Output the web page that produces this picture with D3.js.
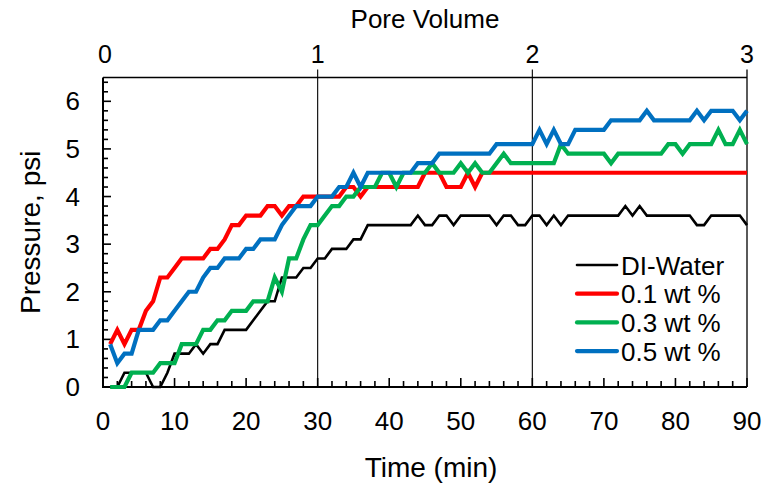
<!DOCTYPE html>
<html>
<head>
<meta charset="utf-8">
<script src="https://cdn.jsdelivr.net/npm/d3@7"></script>
<style>
  html, body { margin: 0; padding: 0; background: #fff; }
  svg { display: block; }
  text { font-family: "Liberation Sans", Arial, sans-serif; fill: #000; }
</style>
</head>
<body>
<svg id="chart" width="768" height="486"></svg>
<script>
// Time of each pressure reading (min)
const timeMin = [1,2,3,4,5,6,7,8,9,10,11,12,13,14,15,16,17,18,19,20,
  21,22,23,24,25,26,27,28,29,30,31,32,33,34,35,36,37,38,39,40,
  41,42,43,44,45,46,47,48,49,50,51,52,53,54,55,56,57,58,59,60,
  61,62,63,64,65,66,67,68,69,70,71,72,73,74,75,76,77,78,79,80,
  81,82,83,84,85,86,87,88,89,90];

// Pressure drop (psi) for each injected fluid
const diWater = [0,0,0.3,0.3,0.3,0.3,0,0,0.3,0.7,
  0.7,0.7,0.9,0.7,0.9,0.9,1.2,1.2,1.2,1.2,
  1.4,1.6,1.8,1.8,2.3,2.3,2.3,2.5,2.5,2.7,
  2.7,2.9,2.9,2.9,3.1,3.1,3.4,3.4,3.4,3.4,
  3.4,3.4,3.4,3.6,3.4,3.4,3.6,3.6,3.4,3.6,
  3.6,3.6,3.6,3.6,3.4,3.6,3.6,3.4,3.4,3.6,
  3.6,3.4,3.6,3.4,3.6,3.6,3.6,3.6,3.6,3.6,
  3.6,3.6,3.8,3.6,3.8,3.6,3.6,3.6,3.6,3.6,
  3.6,3.6,3.4,3.4,3.6,3.6,3.6,3.6,3.6,3.4];

const wt01 = [0.9,1.2,0.9,1.2,1.2,1.6,1.8,2.3,2.3,2.5,
  2.7,2.7,2.7,2.7,2.9,2.9,3.1,3.4,3.4,3.6,
  3.6,3.6,3.8,3.8,3.6,3.8,3.8,4.0,4.0,4.0,
  4.0,4.0,4.0,4.2,4.2,4.0,4.2,4.2,4.2,4.2,
  4.2,4.2,4.2,4.2,4.5,4.5,4.5,4.2,4.2,4.2,
  4.5,4.2,4.5,4.5,4.5,4.5,4.5,4.5,4.5,4.5,
  4.5,4.5,4.5,4.5,4.5,4.5,4.5,4.5,4.5,4.5,
  4.5,4.5,4.5,4.5,4.5,4.5,4.5,4.5,4.5,4.5,
  4.5,4.5,4.5,4.5,4.5,4.5,4.5,4.5,4.5,4.5];

const wt03 = [0,0,0,0.3,0.3,0.3,0.3,0.5,0.5,0.5,
  0.9,0.9,0.9,1.2,1.2,1.4,1.4,1.6,1.6,1.6,
  1.8,1.8,1.8,2.3,2.0,2.7,2.7,3.1,3.4,3.4,
  3.6,3.8,3.8,4.0,4.0,4.2,4.2,4.2,4.5,4.5,
  4.2,4.5,4.5,4.5,4.5,4.7,4.5,4.5,4.5,4.7,
  4.5,4.7,4.5,4.5,4.7,4.9,4.7,4.7,4.7,4.7,
  4.7,4.7,4.7,5.1,4.9,4.9,4.9,4.9,4.9,4.9,
  4.7,4.9,4.9,4.9,4.9,4.9,4.9,4.9,5.1,5.1,
  4.9,5.1,5.1,5.1,5.1,5.4,5.1,5.1,5.4,5.1];

const wt05 = [0.9,0.5,0.7,0.7,1.2,1.2,1.2,1.4,1.4,1.6,
  1.8,2.0,2.0,2.3,2.5,2.5,2.7,2.7,2.7,2.9,
  2.9,3.1,3.1,3.1,3.4,3.6,3.8,3.8,3.8,4.0,
  4.0,4.0,4.2,4.2,4.5,4.2,4.5,4.5,4.5,4.5,
  4.5,4.5,4.5,4.7,4.7,4.7,4.9,4.9,4.9,4.9,
  4.9,4.9,4.9,4.9,5.1,5.1,5.1,5.1,5.1,5.1,
  5.4,5.1,5.4,5.1,5.1,5.4,5.4,5.4,5.4,5.4,
  5.6,5.6,5.6,5.6,5.6,5.8,5.6,5.6,5.6,5.6,
  5.6,5.6,5.8,5.6,5.8,5.8,5.8,5.8,5.6,5.8];

const seriesNames = ["DI-Water", "0.1 wt %", "0.3 wt %", "0.5 wt %"];
const seriesColors = ["#000000", "#FF0000", "#00B050", "#0070C0"];
const seriesValues = [diWater, wt01, wt03, wt05];

const timeTicks = [0,10,20,30,40,50,60,70,80,90];
const pressureTicks = [0,1,2,3,4,5,6];
const poreVolumeTicks = [0,1,2,3];

const svg = d3.select("#chart");
const plotLeft = 103, plotRight = 747, plotTop = 77.5, plotBottom = 387;

const x = d3.scaleLinear().domain([0, 90]).range([plotLeft, plotRight]);
const xPV = d3.scaleLinear().domain([0, 3]).range([plotLeft, plotRight]);
const y = d3.scaleLinear().domain([0, 6.5]).range([plotBottom, plotTop]);

// Plot frame: top edge
svg.append("line").attr("x1", plotLeft).attr("x2", plotRight)
  .attr("y1", plotTop).attr("y2", plotTop)
  .attr("stroke", "#000").attr("stroke-width", 1.3);

// Pore-volume markers: tick above the frame and a line down through the plot
poreVolumeTicks.filter(d => d > 0).forEach(d => {
  svg.append("line")
    .attr("x1", xPV(d)).attr("x2", xPV(d))
    .attr("y1", plotTop - 8).attr("y2", plotBottom)
    .attr("stroke", "#000").attr("stroke-width", d === 3 ? 1.3 : 1.1);
});

// Pore-volume labels along the top
svg.append("g").selectAll("text").data(poreVolumeTicks).join("text")
  .attr("x", d => xPV(d) + (d === 0 ? 2 : 0))
  .attr("y", 63)
  .attr("text-anchor", "middle")
  .attr("font-size", 25)
  .text(d => d);

// Bottom time axis with inward ticks
const xMinor = d3.range(0, 91, 2);
svg.append("g").selectAll("line").data(xMinor).join("line")
  .attr("x1", d => x(d)).attr("x2", d => x(d))
  .attr("y1", plotBottom)
  .attr("y2", d => plotBottom - (d % 10 === 0 ? 9 : 6))
  .attr("stroke", "#000").attr("stroke-width", 1.6);

svg.append("g").selectAll("text").data(timeTicks).join("text")
  .attr("x", d => x(d)).attr("y", 430)
  .attr("text-anchor", "middle")
  .attr("font-size", 26)
  .text(d => d);

// Left pressure axis with inward ticks
const yMinor = d3.range(0, 33).map(i => i / 5);
svg.append("g").selectAll("line").data(yMinor).join("line")
  .attr("x1", plotLeft)
  .attr("x2", d => plotLeft + (Math.abs(d - Math.round(d)) < 1e-6 ? 8 : 5))
  .attr("y1", d => y(d)).attr("y2", d => y(d))
  .attr("stroke", "#000").attr("stroke-width", 1.6);

svg.append("g").selectAll("text").data(pressureTicks).join("text")
  .attr("x", 80).attr("y", d => y(d) + 9)
  .attr("text-anchor", "end")
  .attr("font-size", 26)
  .text(d => d);

svg.append("line").attr("x1", plotLeft).attr("x2", plotLeft)
  .attr("y1", plotTop).attr("y2", plotBottom + 1)
  .attr("stroke", "#000").attr("stroke-width", 2);
svg.append("line").attr("x1", plotLeft - 1).attr("x2", plotRight)
  .attr("y1", plotBottom).attr("y2", plotBottom)
  .attr("stroke", "#000").attr("stroke-width", 2);

// Pressure curves
const line = d3.line().x((d, i) => x(timeMin[i])).y(d => y(d));
seriesValues.forEach((vals, k) => {
  svg.append("path")
    .datum(vals)
    .attr("d", line)
    .attr("fill", "none")
    .attr("stroke", seriesColors[k])
    .attr("stroke-width", k === 0 ? 2.6 : 4.2)
    .attr("stroke-linejoin", "miter");
});

// Legend
const legend = svg.append("g");
seriesNames.forEach((name, k) => {
  const ly = 265 + k * 28.7;
  legend.append("line")
    .attr("x1", 577).attr("x2", 617).attr("y1", ly).attr("y2", ly)
    .attr("stroke", seriesColors[k])
    .attr("stroke-width", k === 0 ? 2.6 : 4.2)
    .attr("stroke-linecap", "round");
  legend.append("text")
    .attr("x", 621).attr("y", ly + 9.5)
    .attr("font-size", 26)
    .text(name);
});

// Axis titles
svg.append("text").attr("x", (plotLeft + plotRight) / 2).attr("y", 28)
  .attr("text-anchor", "middle").attr("font-size", 26).text("Pore Volume");
svg.append("text").attr("x", 431).attr("y", 477)
  .attr("text-anchor", "middle").attr("font-size", 28).text("Time (min)");
svg.append("text")
  .attr("transform", `translate(40, ${(plotTop + plotBottom) / 2}) rotate(-90)`)
  .attr("text-anchor", "middle").attr("font-size", 28).text("Pressure, psi");
</script>
</body>
</html>
